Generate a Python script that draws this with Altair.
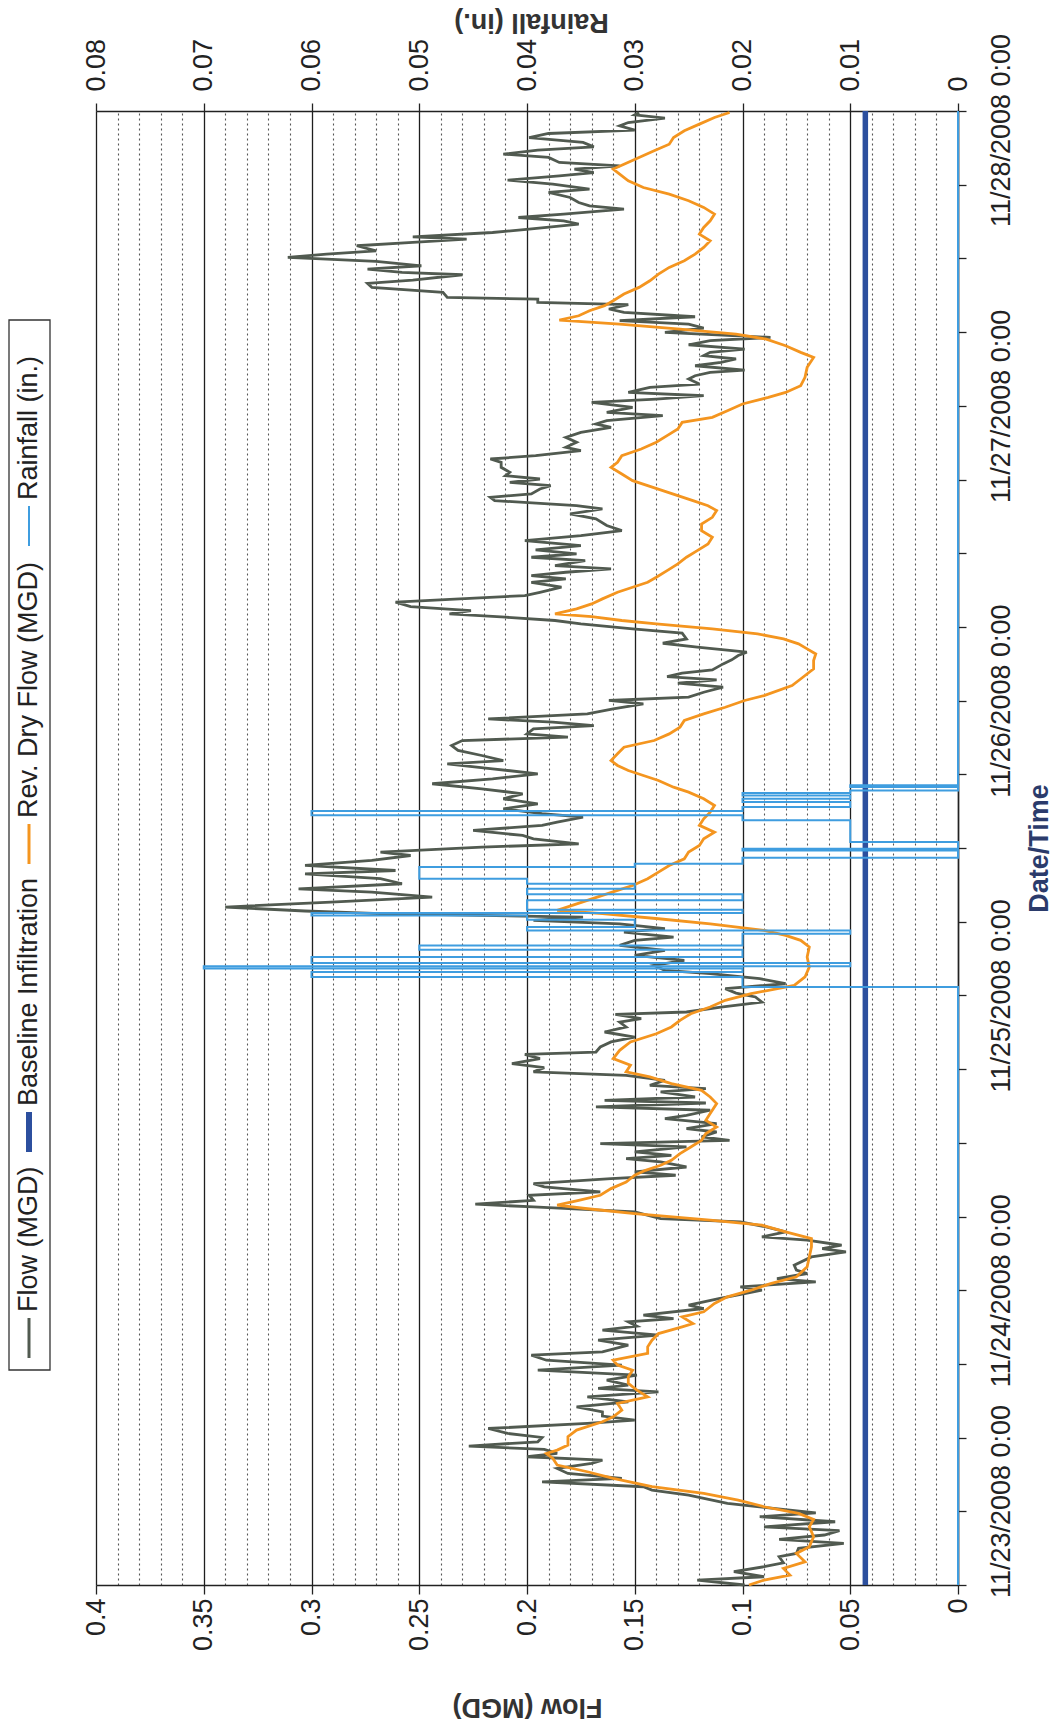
import altair as alt
import pandas as pd

START = "2008-11-23 00:00"

# (hours after 11/23/2008 0:00, MGD)
FLOW = [
    (0.00, 0.099), (0.40, 0.121), (0.67, 0.090), (1.08, 0.104), (1.49, 0.090), (1.81, 0.081), (2.30, 0.083),
    (2.57, 0.075), (2.98, 0.074), (3.39, 0.053), (3.71, 0.083), (4.07, 0.062), (4.42, 0.055), (4.74, 0.090),
    (5.15, 0.057), (5.56, 0.092), (5.88, 0.066), (6.64, 0.107), (7.32, 0.125), (7.73, 0.142), (8.00, 0.146),
    (8.40, 0.193), (8.68, 0.156), (9.08, 0.181), (9.49, 0.186), (9.90, 0.170), (10.17, 0.165), (10.44, 0.200),
    (10.71, 0.186), (11.04, 0.192), (11.31, 0.227), (11.66, 0.195), (12.01, 0.193), (12.34, 0.209), (12.74, 0.218),
    (13.15, 0.172), (13.42, 0.150), (13.75, 0.165), (14.10, 0.165), (14.51, 0.177), (14.91, 0.153), (15.32, 0.172),
    (15.73, 0.139), (16.00, 0.167), (16.27, 0.153), (16.68, 0.163), (17.08, 0.149), (17.49, 0.195), (17.90, 0.156),
    (18.30, 0.191), (18.71, 0.198), (18.98, 0.165), (19.52, 0.153), (19.93, 0.167), (20.34, 0.139), (20.75, 0.165),
    (21.07, 0.149), (21.42, 0.153), (21.69, 0.132), (21.97, 0.146), (22.51, 0.118), (22.78, 0.125), (23.32, 0.111),
    (23.73, 0.099),
    (24.00, 0.091), (24.27, 0.101), (24.68, 0.066), (24.95, 0.084), (25.36, 0.070), (25.63, 0.075), (26.03, 0.076),
    (26.71, 0.068), (27.12, 0.052), (27.39, 0.063), (27.66, 0.054), (28.07, 0.070), (28.34, 0.091), (28.75, 0.080),
    (29.15, 0.089), (29.56, 0.101), (29.83, 0.138), (30.37, 0.150), (30.78, 0.197), (31.00, 0.224), (31.32, 0.197),
    (31.73, 0.199), (32.00, 0.166), (32.41, 0.192), (32.68, 0.197), (33.09, 0.161), (33.36, 0.131), (33.63, 0.150),
    (34.03, 0.126), (34.44, 0.138), (34.71, 0.154), (34.98, 0.133), (35.26, 0.150), (35.66, 0.126), (35.93, 0.166),
    (36.20, 0.106), (36.48, 0.119), (36.88, 0.112), (37.15, 0.126), (37.56, 0.112), (37.97, 0.136), (38.24, 0.126),
    (38.65, 0.115), (38.92, 0.168), (39.24, 0.117), (39.46, 0.164), (39.73, 0.122), (40.14, 0.138), (40.41, 0.117),
    (40.68, 0.143), (41.09, 0.136), (41.49, 0.154), (41.77, 0.197), (42.12, 0.192), (42.44, 0.207), (42.85, 0.194),
    (43.20, 0.201), (43.39, 0.168), (43.80, 0.166), (44.21, 0.161), (44.61, 0.150), (45.02, 0.164), (45.43, 0.154),
    (45.83, 0.157), (46.10, 0.147), (46.46, 0.159), (46.65, 0.126), (47.05, 0.110), (47.46, 0.091), (47.87, 0.094),
    (48.19, 0.103),
    (48.55, 0.108), (48.95, 0.080), (49.36, 0.092), (49.77, 0.115), (50.04, 0.136), (50.44, 0.141), (50.85, 0.127),
    (51.26, 0.150), (51.66, 0.136), (52.07, 0.157), (52.48, 0.150), (52.75, 0.132), (53.16, 0.155), (53.43, 0.136),
    (53.83, 0.157), (54.11, 0.197), (54.38, 0.174), (54.65, 0.268), (54.87, 0.303), (55.19, 0.340), (55.60, 0.291),
    (56.00, 0.244), (56.41, 0.272), (56.68, 0.306), (57.09, 0.258), (57.50, 0.268), (57.90, 0.303), (58.17, 0.261),
    (58.58, 0.303), (58.99, 0.272), (59.39, 0.254), (59.67, 0.268), (60.07, 0.221), (60.34, 0.176), (60.75, 0.197),
    (61.02, 0.202), (61.43, 0.225), (61.84, 0.193), (62.11, 0.186), (62.51, 0.174), (62.79, 0.193), (63.19, 0.211),
    (63.60, 0.195), (64.01, 0.211), (64.41, 0.202), (64.82, 0.221), (65.23, 0.244), (65.63, 0.216), (66.04, 0.195),
    (66.45, 0.216), (66.85, 0.237), (67.12, 0.211), (67.53, 0.221), (67.94, 0.232), (68.34, 0.235), (68.75, 0.230),
    (69.02, 0.181), (69.29, 0.200), (69.70, 0.197), (69.97, 0.169), (70.24, 0.188), (70.51, 0.218), (70.92, 0.172),
    (71.33, 0.160), (71.73, 0.146), (72.01, 0.162), (72.28, 0.125), (72.68, 0.118),
    (73.09, 0.109), (73.42, 0.130), (73.69, 0.112), (73.96, 0.135), (74.23, 0.128), (74.50, 0.114), (74.99, 0.109),
    (75.32, 0.105), (75.67, 0.102), (75.94, 0.098), (76.35, 0.121), (76.67, 0.137), (77.02, 0.126), (77.49, 0.128),
    (77.84, 0.151), (78.24, 0.175), (78.52, 0.187), (78.79, 0.210), (79.06, 0.236), (79.33, 0.226), (79.65, 0.254),
    (80.01, 0.261), (80.36, 0.222), (80.55, 0.201), (80.82, 0.194), (81.23, 0.184), (81.63, 0.198), (81.91, 0.182),
    (82.18, 0.198), (82.45, 0.182), (82.72, 0.161), (82.99, 0.187), (83.40, 0.173), (83.67, 0.198), (83.94, 0.177),
    (84.27, 0.196), (84.62, 0.175), (85.03, 0.201), (85.43, 0.175), (85.84, 0.156), (86.25, 0.163), (86.79, 0.168),
    (87.20, 0.180), (87.60, 0.165), (87.87, 0.177), (88.28, 0.215), (88.55, 0.217), (88.82, 0.198), (89.23, 0.194),
    (89.50, 0.189), (89.77, 0.208), (90.04, 0.194), (90.31, 0.210), (90.59, 0.208), (90.99, 0.212), (91.40, 0.212),
    (91.67, 0.217), (91.94, 0.196), (92.35, 0.175), (92.62, 0.182), (93.03, 0.177), (93.43, 0.182), (93.84, 0.175),
    (94.25, 0.161), (94.52, 0.168), (94.79, 0.163), (95.20, 0.137), (95.47, 0.163), (95.87, 0.151), (96.28, 0.170),
    (96.55, 0.140),
    (96.82, 0.118), (97.09, 0.153), (97.50, 0.143), (97.77, 0.120), (98.18, 0.125), (98.45, 0.122), (98.72, 0.115),
    (98.91, 0.099), (99.26, 0.122), (99.53, 0.110), (99.81, 0.103), (100.08, 0.118), (100.35, 0.115), (100.62, 0.099),
    (100.97, 0.125), (101.30, 0.115), (101.57, 0.087), (101.98, 0.136), (102.33, 0.118), (102.65, 0.125), (102.93, 0.157),
    (103.25, 0.122), (103.60, 0.155), (103.88, 0.162), (104.23, 0.153), (104.42, 0.195), (104.69, 0.195), (104.82, 0.237),
    (105.23, 0.239), (105.64, 0.272), (105.96, 0.274), (106.23, 0.253), (106.67, 0.230), (106.86, 0.258), (107.13, 0.274),
    (107.40, 0.249), (107.75, 0.270), (108.08, 0.311), (108.35, 0.293), (108.62, 0.270), (109.03, 0.279), (109.30, 0.253),
    (109.57, 0.228), (109.76, 0.253), (110.11, 0.216), (110.38, 0.199), (110.79, 0.176), (111.06, 0.183), (111.33, 0.204),
    (111.60, 0.183), (112.01, 0.155), (112.28, 0.171), (112.55, 0.176), (112.96, 0.180), (113.37, 0.190), (113.64, 0.171),
    (114.05, 0.188), (114.37, 0.209), (114.72, 0.185), (114.99, 0.169), (115.27, 0.178), (115.54, 0.157), (115.81, 0.185),
    (116.22, 0.190), (116.49, 0.211), (116.81, 0.195), (117.08, 0.169), (117.44, 0.174), (117.84, 0.199), (118.17, 0.190),
    (118.44, 0.150), (118.79, 0.157), (119.06, 0.153), (119.42, 0.136), (119.69, 0.150), (119.88, 0.148),
]

# (hours, MGD)
DRY = [
    (0.00, 0.097), (0.40, 0.090), (0.81, 0.078), (1.35, 0.081), (1.89, 0.071), (2.57, 0.075), (3.12, 0.069),
    (3.93, 0.067), (4.74, 0.069), (5.34, 0.067), (5.83, 0.074), (6.37, 0.090), (6.91, 0.102), (7.46, 0.118),
    (8.00, 0.142), (8.68, 0.160), (9.22, 0.172), (9.76, 0.186), (10.30, 0.188), (10.71, 0.191), (10.98, 0.186),
    (11.39, 0.181), (12.07, 0.181), (12.61, 0.177), (13.29, 0.165), (13.69, 0.160), (14.24, 0.156), (14.78, 0.158),
    (15.32, 0.144), (15.86, 0.149), (16.41, 0.153), (16.95, 0.153), (17.49, 0.151), (17.90, 0.158), (18.30, 0.160),
    (18.85, 0.144), (19.39, 0.144), (19.93, 0.142), (20.47, 0.139), (21.02, 0.128), (21.29, 0.123), (21.83, 0.128),
    (22.24, 0.118), (22.92, 0.113), (23.46, 0.107),
    (24.00, 0.096), (24.54, 0.087), (25.09, 0.075), (25.90, 0.070), (26.71, 0.069), (27.53, 0.068), (28.20, 0.068),
    (28.75, 0.080), (29.29, 0.091), (29.70, 0.115), (30.24, 0.150), (30.65, 0.173), (30.92, 0.186), (31.32, 0.176),
    (31.73, 0.166), (32.27, 0.161), (32.81, 0.154), (33.36, 0.150), (33.76, 0.145), (34.17, 0.138), (34.58, 0.133),
    (35.12, 0.129), (35.66, 0.124), (36.20, 0.119), (36.75, 0.117), (37.29, 0.112), (37.83, 0.117), (38.38, 0.115),
    (39.19, 0.112), (39.73, 0.115), (40.27, 0.119), (40.82, 0.133), (41.36, 0.143), (41.77, 0.154), (42.31, 0.152),
    (42.85, 0.160), (43.53, 0.157), (44.21, 0.152), (44.88, 0.140), (45.43, 0.133), (45.97, 0.129), (46.51, 0.124),
    (47.05, 0.115), (47.60, 0.108), (48.14, 0.096),
    (48.82, 0.076), (49.50, 0.071), (50.31, 0.069), (51.12, 0.070), (51.94, 0.069), (52.48, 0.073), (52.89, 0.080),
    (53.29, 0.090), (53.83, 0.115), (54.24, 0.139), (54.65, 0.165), (54.92, 0.186), (55.33, 0.179), (55.73, 0.172),
    (56.14, 0.165), (56.55, 0.158), (56.95, 0.151), (57.50, 0.144), (58.04, 0.139), (58.58, 0.134), (59.12, 0.127),
    (59.67, 0.125), (60.21, 0.120), (60.75, 0.118), (61.29, 0.113), (61.84, 0.120), (62.38, 0.118), (62.92, 0.115),
    (63.46, 0.113), (64.01, 0.118), (64.55, 0.125), (64.95, 0.132), (65.50, 0.139), (65.90, 0.146), (66.31, 0.153),
    (66.72, 0.158), (67.12, 0.161), (67.67, 0.158), (68.21, 0.155), (68.75, 0.141), (69.29, 0.134), (69.84, 0.129),
    (70.38, 0.127), (70.92, 0.118), (71.46, 0.108), (72.01, 0.099), (72.41, 0.090),
    (73.23, 0.077), (73.90, 0.072), (74.58, 0.067), (75.26, 0.067), (75.80, 0.066), (76.21, 0.070), (76.62, 0.074),
    (77.02, 0.081), (77.43, 0.093), (77.84, 0.114), (78.24, 0.140), (78.52, 0.156), (78.84, 0.170), (79.06, 0.187),
    (79.47, 0.177), (79.87, 0.170), (80.28, 0.165), (80.82, 0.158), (81.23, 0.151), (81.63, 0.144), (82.04, 0.140),
    (82.58, 0.135), (83.13, 0.130), (83.67, 0.126), (84.21, 0.121), (84.75, 0.116), (85.30, 0.114), (85.84, 0.119),
    (86.38, 0.119), (86.92, 0.114), (87.47, 0.112), (87.87, 0.116), (88.28, 0.123), (88.69, 0.130), (89.09, 0.137),
    (89.50, 0.144), (89.91, 0.151), (90.45, 0.156), (90.99, 0.161), (91.40, 0.158), (91.94, 0.156), (92.48, 0.147),
    (93.03, 0.140), (93.57, 0.135), (94.11, 0.130), (94.65, 0.128), (95.06, 0.114), (95.60, 0.107), (96.15, 0.100),
    (96.69, 0.088),
    (97.09, 0.080), (97.64, 0.073), (98.32, 0.071), (99.13, 0.070), (99.94, 0.067), (100.35, 0.073), (100.89, 0.080),
    (101.43, 0.089), (101.84, 0.103), (102.25, 0.129), (102.65, 0.157), (102.98, 0.185), (103.33, 0.176), (103.74, 0.171),
    (104.15, 0.164), (104.55, 0.160), (105.10, 0.155), (105.64, 0.148), (106.18, 0.143), (106.72, 0.139), (107.27, 0.134),
    (107.81, 0.127), (108.35, 0.122), (108.89, 0.118), (109.44, 0.115), (109.98, 0.120), (110.52, 0.118), (111.06, 0.115),
    (111.60, 0.113), (112.15, 0.118), (112.69, 0.125), (113.23, 0.134), (113.77, 0.146), (114.32, 0.153), (114.86, 0.157),
    (115.27, 0.160), (115.67, 0.155), (116.22, 0.148), (116.76, 0.141), (117.30, 0.134), (117.84, 0.132), (118.39, 0.127),
    (118.93, 0.120), (119.47, 0.113), (119.88, 0.106),
]

# (hours, inches) - value from that time on
RAIN = [
    (0.00, 0.0), (48.68, 0.02), (49.50, 0.06), (49.91, 0.02), (50.18, 0.07), (50.37, 0.01), (50.64, 0.06),
    (51.12, 0.02), (51.72, 0.05), (52.07, 0.02), (53.02, 0.01), (53.29, 0.04), (53.56, 0.03), (54.16, 0.04),
    (54.51, 0.06), (54.70, 0.02), (54.98, 0.04), (55.74, 0.02), (56.23, 0.04), (56.68, 0.03), (57.09, 0.04),
    (57.50, 0.05), (58.45, 0.03), (58.72, 0.02), (59.21, 0.0), (59.80, 0.02), (59.94, 0.0), (60.48, 0.01),
    (62.25, 0.02), (62.66, 0.06), (63.01, 0.02), (63.33, 0.01), (63.74, 0.02), (64.01, 0.01), (64.28, 0.02),
    (64.47, 0.01), (64.69, 0.0), (64.96, 0.01), (65.10, 0.0), (120.00, 0.0),
]

BASELINE = [(0.00, 0.043), (120.00, 0.043)]

FLOW_TICKS = [0, 0.05, 0.1, 0.15, 0.2, 0.25, 0.3, 0.35, 0.4]
RAIN_GRID = [0, 0.002, 0.004, 0.006, 0.008, 0.01, 0.012, 0.014, 0.016, 0.018, 0.02, 0.022, 0.024, 0.026,
             0.028, 0.03, 0.032, 0.034, 0.036, 0.038, 0.04, 0.042, 0.044, 0.046, 0.048, 0.05, 0.052, 0.054,
             0.056, 0.058, 0.06, 0.062, 0.064, 0.066, 0.068, 0.07, 0.072, 0.074, 0.076, 0.078, 0.08]
DATE_TICK_HOURS = list(range(0, 121, 6))

LEGEND_LABELS = ["Flow (MGD)", "Baseline Infiltration", "Rev. Dry Flow (MGD)", "Rainfall (in.)"]

FONT = "Liberation Sans, Arial, Helvetica, sans-serif"
C_FLOW = "#515a50"
C_DRY = "#f4951f"
C_BASE = "#2c4f9e"
C_RAIN = "#3f9ddf"
INK = "#222222"

base_time = pd.Timestamp(START)


def frame(pairs):
    return pd.DataFrame({
        "time": [base_time + pd.Timedelta(hours=t) for t, _ in pairs],
        "value": [v for _, v in pairs],
        "order": list(range(len(pairs))),
    })


flow_df = frame(FLOW)
dry_df = frame(DRY)
rain_df = frame(RAIN)
base_df = frame(BASELINE)

W, H = 862, 1474

date_ticks = [alt.DateTime(year=2008, month=11, date=23 + h // 24, hours=h % 24) for h in DATE_TICK_HOURS]
y_scale = alt.Scale(domain=[alt.DateTime(year=2008, month=11, date=23),
                            alt.DateTime(year=2008, month=11, date=28)], nice=False)
y_axis = alt.Axis(
    orient="right", values=date_ticks, grid=False,
    labelExpr="hours(datum.value) == 0 ? timeFormat(datum.value, '%-m/%-d/%Y %-H:%M') : ''",
    labelAngle=270, labelAlign="center", labelBaseline="top", labelPadding=22, labelLimit=0,
    labelFont=FONT, labelFontSize=27, labelColor=INK, labelOverlap=False, labelFlush=False,
    labelOffset={"condition": [{"test": "date(datum.value) == 23 && hours(datum.value) == 0", "value": -84},
                               {"test": "date(datum.value) == 28", "value": 19}], "value": 0},
    tickSize=8, tickColor=INK, tickWidth=1.3, domainColor=INK, domainWidth=1.5,
    title="Date/Time", titleAngle=270, titleFont=FONT, titleFontSize=27, titleFontWeight="bold",
    titleColor="#2b3b6b", titleX=81, titleY=H / 2, titleAlign="center", titleBaseline="middle",
)
y_enc = alt.Y("time:T", scale=y_scale, axis=y_axis)

flow_scale = alt.Scale(domain=[0, 0.4], reverse=True, nice=False, zero=False)
flow_axis = alt.Axis(
    orient="bottom", values=FLOW_TICKS, labelExpr="format(datum.value, '~g')",
    labelAngle=270, labelAlign="right", labelBaseline="middle", labelPadding=4, labelLimit=0,
    labelFont=FONT, labelFontSize=27, labelColor=INK, labelOverlap=False, labelFlush=False,
    tickSize=9, tickColor=INK, tickWidth=1.3, domainColor=INK, domainWidth=1.5,
    grid=True, gridColor="#1e1e1e", gridWidth=1.3, gridOpacity=1,
    title="Flow (MGD)", titleAngle=180, titleFont=FONT, titleFontSize=27, titleFontWeight="bold",
    titleColor="#333333", titleX=W / 2, titleY=121, titleAlign="center", titleBaseline="middle",
)
flow_x = alt.X("value:Q", scale=flow_scale, axis=flow_axis)

major = "abs(datum.value * 100 - round(datum.value * 100)) < 0.01"
rain_scale = alt.Scale(domain=[0, 0.08], reverse=True, nice=False, zero=False)
rain_axis = alt.Axis(
    orient="top", values=RAIN_GRID,
    labelExpr=major + " ? format(datum.value, '~g') : ''",
    labelAngle=270, labelAlign="left", labelBaseline="middle", labelPadding=12, labelLimit=0,
    labelFont=FONT, labelFontSize=27, labelColor=INK, labelOverlap=False, labelFlush=False,
    tickSize=8, tickColor=INK, tickWidth=1.3,
    tickOpacity={"condition": {"test": major, "value": 1}, "value": 0},
    domainColor=INK, domainWidth=1.5,
    grid=True, gridColor="#444444", gridWidth=1.1, gridDash=[2, 3],
    gridOpacity={"condition": {"test": major, "value": 0}, "value": 0.9},
    title="Rainfall (in.)", titleAngle=180, titleFont=FONT, titleFontSize=27, titleFontWeight="bold",
    titleColor="#333333", titleX=W / 2 + 4, titleY=-90, titleAlign="center", titleBaseline="middle",
)

flow_line = alt.Chart(flow_df).mark_line(color=C_FLOW, strokeWidth=2.8).encode(
    x=flow_x, y=y_enc, order="order:Q")
base_line = alt.Chart(base_df).mark_line(color=C_BASE, strokeWidth=5.5).encode(
    x=flow_x, y=y_enc, order="order:Q")
dry_line = alt.Chart(dry_df).mark_line(color=C_DRY, strokeWidth=2.8).encode(
    x=flow_x, y=y_enc, order="order:Q")
flow_group = alt.layer(flow_line, base_line, dry_line)

rain_line = alt.Chart(rain_df).mark_line(color=C_RAIN, strokeWidth=2, interpolate="step-before").encode(
    x=alt.X("value:Q", scale=rain_scale, axis=rain_axis), y=y_enc, order="order:Q")

# ---- hand-drawn rotated legend (outside the plot, on the left) ----
one = alt.Data(values=[{}])
LX = -67
legend_box = alt.Chart(one).mark_rect(filled=False, color="#333333", strokeWidth=1.3).encode(
    x=alt.value(-87), x2=alt.value(-46), y=alt.value(209), y2=alt.value(1259))
legend_items = [
    (LEGEND_LABELS[0], C_FLOW, 3, 1247, 1207, 1201),
    (LEGEND_LABELS[1], C_BASE, 6, 1041, 1001, 995),
    (LEGEND_LABELS[2], C_DRY, 3, 753, 713, 707),
    (LEGEND_LABELS[3], C_RAIN, 2, 435, 395, 389),
]
legend_layers = [legend_box]
for label, col, sw, y1, y2, ty in legend_items:
    legend_layers.append(
        alt.Chart(one).mark_rule(color=col, strokeWidth=sw).encode(
            x=alt.value(LX), y=alt.value(y1), y2=alt.value(y2)))
    legend_layers.append(
        alt.Chart(one).mark_text(text=label, angle=270, align="left", baseline="middle",
                                 font=FONT, fontSize=27, color=INK).encode(
            x=alt.value(LX), y=alt.value(ty)))

chart = alt.layer(flow_group, rain_line, *legend_layers).resolve_scale(x="independent").properties(
    width=W, height=H,
    padding={"left": 88, "top": 103, "right": 94, "bottom": 139},
    autosize=alt.AutoSizeParams(type="none"),
).configure_view(strokeWidth=0).configure(background="white")

chart.save("out.html", embed_options={"renderer": "svg", "actions": False})
